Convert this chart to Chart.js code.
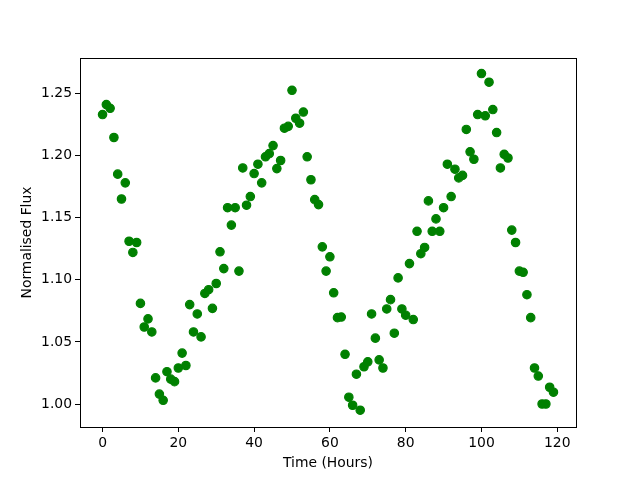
<!DOCTYPE html>
<html>
<head>
<meta charset="utf-8">
<script src="https://cdn.jsdelivr.net/npm/chart.js@4/dist/chart.umd.min.js"></script>
<style>html,body{margin:0;padding:0;background:#fff;}canvas{display:block;}</style>
</head>
<body>
<canvas id="c" width="640" height="480"></canvas>
<script>
const timeHours = Array.from({length: 120}, (_, i) => i);
const normalisedFlux = [
  1.233, 1.241, 1.238, 1.2145, 1.185, 1.165, 1.178, 1.131, 1.122, 1.130,
  1.081, 1.062, 1.0685, 1.058, 1.021, 1.008, 1.003, 1.026, 1.020, 1.018,
  1.029, 1.041, 1.031, 1.080, 1.058, 1.0725, 1.054, 1.089, 1.092, 1.077,
  1.097, 1.1225, 1.109, 1.158, 1.144, 1.158, 1.107, 1.190, 1.160, 1.167,
  1.1855, 1.193, 1.178, 1.199, 1.2015, 1.208, 1.1895, 1.196, 1.222, 1.2235,
  1.2525, 1.230, 1.226, 1.235, 1.199, 1.1805, 1.1645, 1.1605, 1.1265, 1.107,
  1.1185, 1.0895, 1.0695, 1.070, 1.040, 1.0055, 0.999, 1.024, 0.995, 1.030,
  1.034, 1.0725, 1.053, 1.0355, 1.029, 1.0765, 1.084, 1.057, 1.1015, 1.0765,
  1.0715, 1.113, 1.068, 1.139, 1.121, 1.126, 1.1635, 1.139, 1.149, 1.139,
  1.158, 1.193, 1.167, 1.189, 1.182, 1.184, 1.221, 1.203, 1.197, 1.233,
  1.266, 1.232, 1.259, 1.237, 1.2185, 1.190, 1.201, 1.198, 1.140, 1.130,
  1.107, 1.106, 1.088, 1.0695, 1.029, 1.0225, 1.000, 1.000, 1.0135, 1.0095
];
const xTicks = [0, 20, 40, 60, 80, 100, 120];
const yTicks = [1.00, 1.05, 1.10, 1.15, 1.20, 1.25];

const FONT = "'DejaVu Sans', sans-serif";
const frame = {
  id: 'frame',
  afterDraw(chart) {
    const a = chart.chartArea, ctx = chart.ctx;
    ctx.save();
    ctx.strokeStyle = '#000';
    ctx.lineWidth = 1;
    ctx.strokeRect(Math.round(a.left) + 0.5, Math.round(a.top) + 0.5,
      Math.round(a.right - a.left), Math.round(a.bottom - a.top));
    ctx.restore();
  }
};

new Chart(document.getElementById('c'), {
  type: 'scatter',
  data: {
    datasets: [{
      data: timeHours.map((t, i) => ({x: t, y: normalisedFlux[i]})),
      backgroundColor: '#008000',
      borderColor: '#008000',
      pointRadius: 4.2,
      borderWidth: 1.2,
      pointHoverRadius: 4.2
    }]
  },
  options: {
    responsive: false,
    animation: false,
    devicePixelRatio: 1,
    layout: {padding: {top: 58, right: 64, left: 0, bottom: 0}},
    plugins: {legend: {display: false}, tooltip: {enabled: false}},
    scales: {
      x: {
        type: 'linear',
        min: -5.95, max: 124.95,
        afterFit(s) { s.height = 53; },
        afterBuildTicks(s) { s.ticks = xTicks.map(v => ({value: v})); },
        grid: {drawOnChartArea: false, tickLength: 5, color: '#000', tickColor: '#000'},
        border: {display: false},
        ticks: {color: '#000', font: {family: FONT, size: 13.9}, padding: 3, maxRotation: 0,
          callback: v => String(v)},
        title: {display: true, text: 'Time (Hours)', color: '#000',
          font: {family: FONT, size: 13.9}, padding: {top: 0, bottom: 8}}
      },
      y: {
        type: 'linear',
        min: 0.9815, max: 1.2785,
        afterFit(s) { s.width = 80; },
        afterBuildTicks(s) { s.ticks = yTicks.map(v => ({value: v})); },
        grid: {drawOnChartArea: false, tickLength: 5, color: '#000', tickColor: '#000'},
        border: {display: false},
        ticks: {color: '#000', font: {family: FONT, size: 13.9}, padding: 3,
          callback: v => Number(v).toFixed(2)},
        title: {display: true, text: 'Normalised Flux', color: '#000',
          font: {family: FONT, size: 13.9}, padding: {top: 19, bottom: 0}}
      }
    }
  },
  plugins: [frame]
});
</script>
</body>
</html>
